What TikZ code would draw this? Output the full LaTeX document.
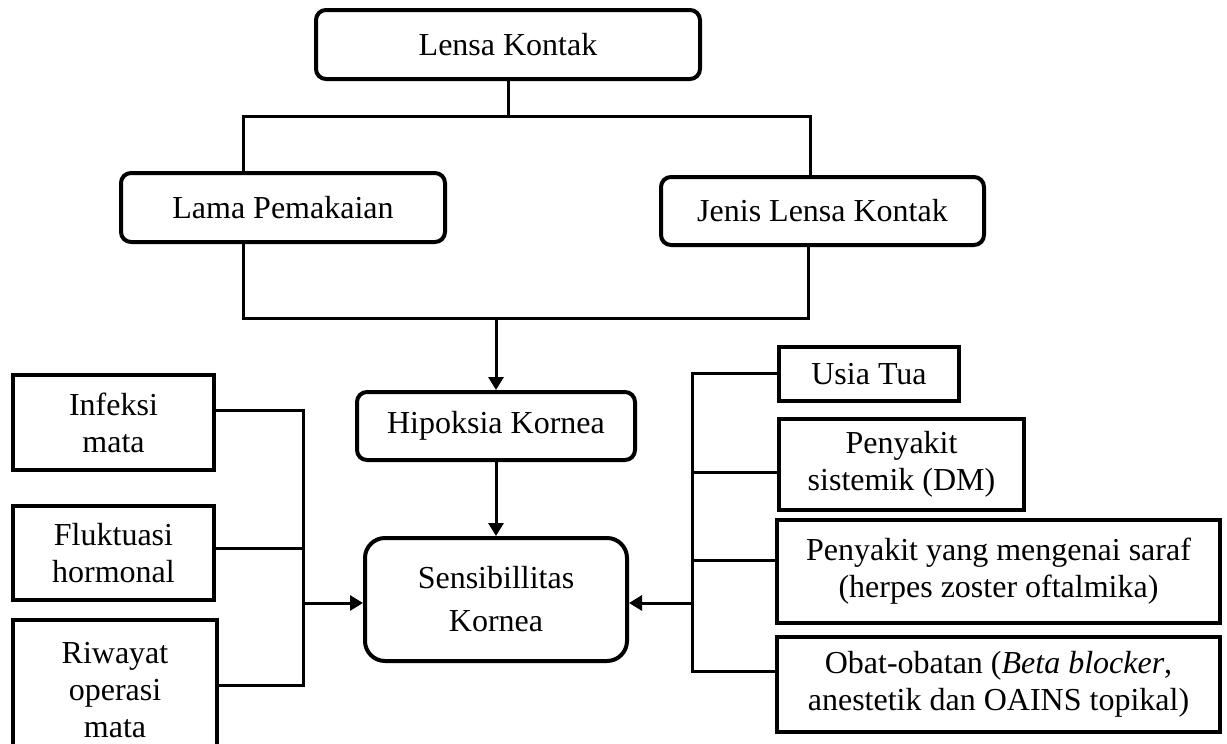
\documentclass[tikz,border=0pt]{standalone}
\usepackage{fontspec}
\setmainfont{Liberation Serif}
\usetikzlibrary{arrows.meta}

\begin{document}
\begin{tikzpicture}[x=0.5pt, y=-0.5pt,
    font=\fontsize{16}{18.5}\selectfont,
    rbox/.style={draw, line width=2pt, rounded corners=5pt, inner sep=0pt, align=center},
    sbox/.style={draw, line width=1.8pt, inner sep=0pt, align=center},
    link/.style={line width=1.5pt},
    arrowlink/.style={line width=1.5pt, -{Triangle[length=6.5pt, width=7.5pt]}}]
    \useasboundingbox (0,0) rectangle (1227,744);

    % Main chain
    \node[rbox, minimum width=192pt, minimum height=34.5pt] (lensa) at (508,44.5) {Lensa Kontak};
    \node[rbox, minimum width=162pt, minimum height=34.5pt] (lama) at (283,207.5) {Lama Pemakaian};
    \node[rbox, minimum width=161.5pt, minimum height=34pt] (jenis) at (822.5,211) {Jenis Lensa Kontak};
    \node[rbox, minimum width=139pt, minimum height=34pt] (hipoksia) at (496,426) {Hipoksia Kornea};
    \node[rbox, rounded corners=10pt, minimum width=131pt, minimum height=61.5pt,
          font=\fontsize{16}{21.5}\selectfont] (sens) at (496,599.5) {Sensibillitas\\Kornea};

    % Left factors
    \node[sbox, minimum width=100.5pt, minimum height=47.5pt] (infeksi) at (113.5,422.5) {Infeksi\\mata};
    \node[sbox, minimum width=100.5pt, minimum height=47pt] (fluktuasi) at (113.5,553) {Fluktuasi\\hormonal};
    \node[sbox, minimum width=102pt, minimum height=70pt] (riwayat) at (115,690) {Riwayat\\operasi\\mata};

    % Right factors
    \node[sbox, minimum width=90pt, minimum height=27pt] (usia) at (869,374) {Usia Tua};
    \node[sbox, minimum width=122.5pt, minimum height=45.5pt] (sistemik) at (901.5,464.5) {Penyakit\\sistemik (DM)};
    \node[sbox, minimum width=221.5pt, minimum height=51.5pt] (saraf) at (998.5,571.5) {Penyakit yang mengenai saraf\\(herpes zoster oftalmika)};
    \node[sbox, minimum width=221.5pt, minimum height=47.5pt] (obat) at (998.5,684.5) {Obat-obatan (\textit{Beta blocker},\\anestetik dan OAINS topikal)};

    % Bus points
    \coordinate (tl) at (243,116);
    \coordinate (tr) at (810,116);
    \coordinate (bl) at (243,318);
    \coordinate (br) at (808,318);
    \coordinate (l1) at (303,410);
    \coordinate (l2) at (303,548);
    \coordinate (l3) at (303,685);
    \coordinate (lm) at (303,603);
    \coordinate (r1) at (692,373);
    \coordinate (r2) at (692,472);
    \coordinate (r3) at (692,560);
    \coordinate (r4) at (692,671);
    \coordinate (rm) at (692,603);

    % Top split
    \draw[link] (lensa.south) -- (lensa.south |- tl);
    \draw[link] (lama.north -| tl) -- (tl) -- (tr) -- (jenis.north -| tr);
    % Merge
    \draw[link] (lama.south -| bl) -- (bl) -- (br) -- (jenis.south -| br);
    \draw[arrowlink] (hipoksia.north |- bl) -- (hipoksia.north);
    \draw[arrowlink] (hipoksia.south) -- (sens.north);

    % Left bus
    \draw[link] (infeksi.east |- l1) -- (l1) -- (l3) -- (riwayat.east |- l3);
    \draw[link] (fluktuasi.east |- l2) -- (l2);
    \draw[arrowlink] (lm) -- (sens.west |- lm);

    % Right bus
    \draw[link] (usia.west |- r1) -- (r1) -- (r4) -- (obat.west |- r4);
    \draw[link] (sistemik.west |- r2) -- (r2);
    \draw[link] (saraf.west |- r3) -- (r3);
    \draw[arrowlink] (rm) -- (sens.east |- rm);

\end{tikzpicture}
\end{document}
